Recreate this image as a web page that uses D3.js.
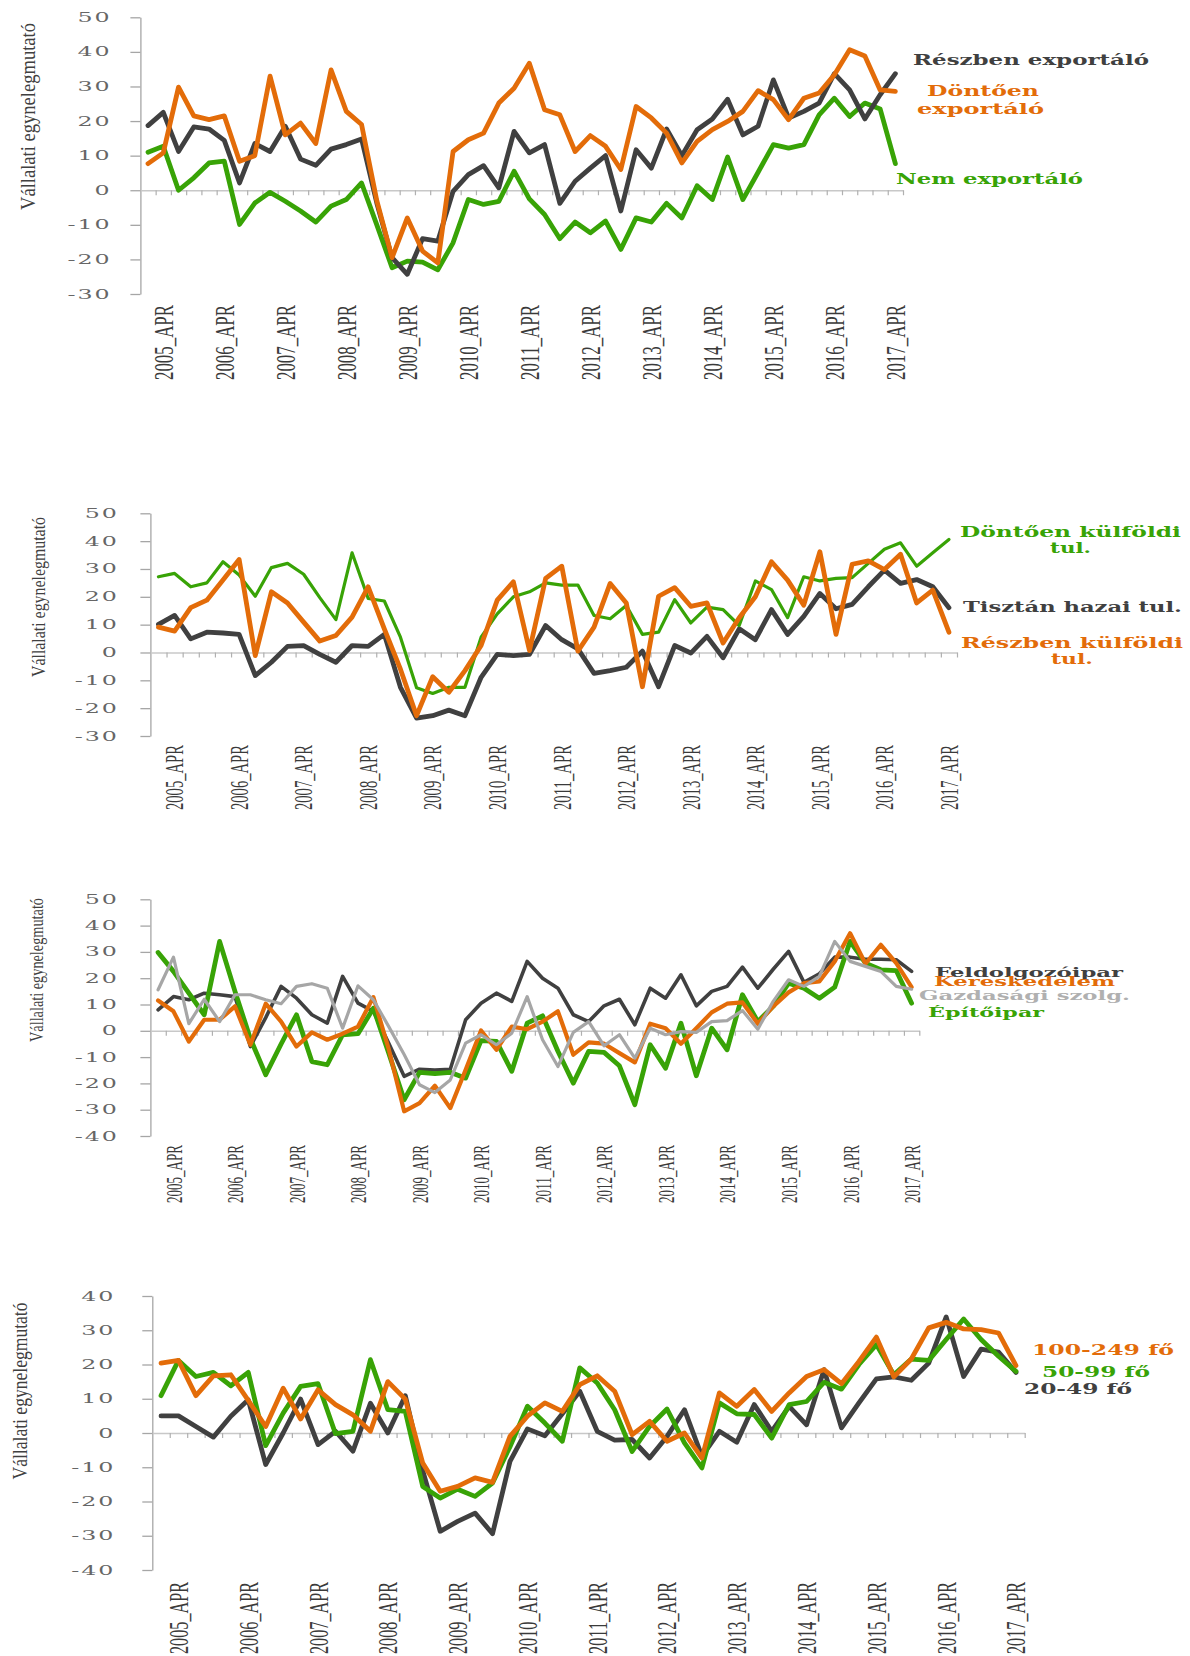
<!DOCTYPE html>
<html>
<head>
<meta charset="utf-8">
<script src="https://cdn.jsdelivr.net/npm/d3@7/dist/d3.min.js"></script>
<style>
  body { margin: 0; background: #fff; }
  svg text { font-family: "DejaVu Serif", serif; }
</style>
</head>
<body>
<svg id="chart" width="1190" height="1656"></svg>
<script>
// Negyedévek: 2005_JAN ... 2017_APR (csak az áprilisi címkék látszanak)
var honapok = ["JAN", "APR", "JUL", "OKT"];
var negyedevek = [];
for (var ev = 2005; ev <= 2017; ev++) {
  honapok.forEach(function(h) { negyedevek.push(ev + "_" + h); });
}
negyedevek = negyedevek.slice(0, 50);

// 1. ábra - export szerint
var p1Ticks = [50, 40, 30, 20, 10, 0, -10, -20, -30];
var p1Reszben = [18.7, 22.5, 11.2, 18.3, 17.7, 14.4, 2.1, 13.5, 11.2, 18.5, 9, 7.2, 11.9, 13.2, 14.8, -3.7, -19.5, -24.3, -14, -14.7, -0.3, 4.5, 7.1, 0.7, 17, 10.8, 13.2, -3.8, 2.6, 6.4, 10, -6, 11.7, 6.4, 17.7, 10, 17.5, 20.6, 26.3, 16, 18.5, 31.9, 20.9, 22.8, 25.2, 33.7, 29, 20.6, 27.6, 33.7];
var p1Dontoen = [7.7, 10.8, 29.8, 21.5, 20.4, 21.5, 8.4, 10, 33, 16, 19.4, 13.5, 34.8, 22.8, 19, -3, -19.5, -8, -17.6, -21, 11.2, 14.6, 16.5, 25.2, 29.5, 36.7, 23.3, 21.8, 11.2, 15.8, 12.7, 6, 24.2, 20.9, 16.5, 7.9, 14.1, 17.5, 19.9, 22.8, 28.8, 26.2, 20.4, 26.6, 28.1, 33.4, 40.6, 38.8, 29, 28.6];
var p1Nem = [11, 12.7, 0, 3.6, 7.9, 8.4, -9.9, -3.7, -0.6, -3.2, -6, -9.2, -4.6, -2.7, 2.1, -10, -22.4, -20.5, -20.8, -23, -15.2, -2.7, -4.1, -3.2, 5.5, -2.5, -7, -14, -9.2, -12.3, -8.9, -17.1, -8, -9.2, -3.8, -8, 1.3, -2.7, 9.6, -2.7, 5.2, 13.2, 12.2, 13.2, 21.8, 26.6, 21.3, 25.2, 23.5, 7.7];

// 2. ábra - tulajdonos szerint
var p2Ticks = [50, 40, 30, 20, 10, 0, -10, -20, -30];
var p2Dontoen = [27.2, 28.4, 23.6, 25, 32.6, 27.8, 20.2, 30.5, 32, 28.1, 19.7, 11.8, 35.8, 19.4, 18.5, 5.5, -12.7, -14.7, -12.5, -12.5, 5.5, 13.9, 20, 21.8, 25, 24.2, 24.2, 13.3, 12.1, 16.9, 6.5, 7.3, 19, 10.6, 16.3, 15.4, 9.7, 25.7, 22.6, 12.5, 27.2, 25.7, 26.6, 26.9, 32, 37.1, 39.4, 31, 35.8, 40.6];
var p2Reszben = [9.1, 7.7, 16.1, 18.8, 26, 33.4, -1.1, 21.8, 17.8, 10.9, 4.1, 6.1, 12.7, 23.6, 8.5, -6, -22.7, -8.7, -14.3, -6.5, 2.5, 18.8, 25.4, 0.7, 26.6, 31, 0.5, 9.1, 24.8, 17.8, -12.3, 20.2, 23.3, 16.6, 17.8, 3.4, 12.5, 20, 32.6, 26, 17, 36.2, 6.5, 31.7, 32.9, 29.8, 35.3, 17.8, 22.4, 7.3];
var p2Tisztan = [10.1, 13.3, 4.9, 7.3, 7, 6.5, -8.3, -3.5, 2.2, 2.5, -0.7, -3.5, 2.5, 2.2, 6.5, -12.5, -23.6, -22.7, -20.7, -22.7, -8.9, -0.7, -1.1, -0.7, 9.7, 4.6, 1.3, -7.5, -6.5, -5.3, 0.5, -12.3, 2.5, -0.2, 5.8, -1.9, 8.5, 4.6, 15.4, 6.5, 13, 21.2, 15.7, 17.3, 23.6, 29.6, 24.8, 26.2, 23.6, 16.1];

// 3. ábra - ágazat szerint
var p3Ticks = [50, 40, 30, 20, 10, 0, -10, -20, -30, -40];
var p3Feldolg = [8, 13, 11.8, 14.3, 13.7, 13, -6, 5, 16.9, 12.4, 6.1, 2.9, 20.7, 10.5, 7.4, -4.7, -17.3, -14.6, -14.9, -14.6, 4.2, 10.5, 14.3, 11.2, 26.4, 20, 16.2, 6.1, 3.5, 9.5, 12, 2.3, 16.2, 12.4, 21.3, 9.5, 15, 16.9, 24.2, 16.2, 23.4, 30.2, 18.4, 21.7, 28, 28, 27.2, 27.2, 27, 22.6];
var p3Keresk = [11.5, 7.4, -4.1, 4.2, 4.2, 9.3, -5.3, 10.3, 3.5, -6, -0.6, -3.4, -1.1, 1.6, 12.8, -7, -30.6, -27.5, -20.9, -29.4, -14.8, 0.1, -7.2, 1.6, 0.6, 3.5, 7.4, -9.1, -4.4, -4.9, -8.5, -12, 2.7, 1, -4.9, 1, 7, 10.3, 10.8, 2.7, 9.3, 14.6, 18.1, 18.8, 26.4, 37.1, 25.5, 32.7, 25.7, 16.6];
var p3Gazd = [15.6, 28, 2.7, 12, 3.5, 13.7, 13.7, 11.8, 10.3, 16.9, 17.9, 16.2, 1, 17.1, 11.8, 1.6, -9, -20.5, -23.5, -18.7, -4.7, -1.5, -5.3, -0.9, 13, -3.4, -13.6, -0.6, 3.5, -5.7, -1.5, -10.4, 1, -1.5, -0.3, -0.6, 3.5, 3.9, 7.7, 0.6, 11.2, 19.4, 16.9, 20.7, 34, 26.4, 24.5, 22.6, 16.9, 15.8];
var p3Epito = [29.8, 22.6, 14.3, 6.1, 34, 15, -3, -16.7, -5, 6.1, -11.7, -12.9, -1.5, -1.1, 8.6, -8.5, -26.2, -15.8, -16.3, -15.8, -18, -3.7, -4, -15.4, 2.9, 5.7, -7.8, -19.9, -7.8, -8.2, -13.3, -28.1, -5.3, -14.2, 2.9, -17.1, 1, -7.2, 13.7, 3.5, 9.3, 18.1, 16.2, 12.4, 16.6, 34, 25.7, 23.2, 22.9, 10.5];

// 4. ábra - létszám szerint
var p4Ticks = [40, 30, 20, 10, 0, -10, -20, -30, -40];
var p4Kicsi = [5, 5, 1.9, -1.2, 4.9, 9.7, -9.2, 0, 9.9, -3.4, 0.5, -5.3, 8.7, 0, 10.9, -11, -28.7, -25.8, -23.4, -29.4, -8.3, 1.2, -0.8, 5.6, 12.2, 0.5, -2.1, -1.9, -7.3, -1, 6.8, -6.8, 0.5, -2.7, 8.3, 0.5, 7.8, 2.4, 18.5, 1.5, 8.8, 15.8, 16.4, 15.4, 20.4, 33.9, 16.5, 24.5, 23.6, 17.7];
var p4Kozep = [10.9, 21.2, 16.5, 17.7, 13.8, 17.7, -3.7, 5.8, 13.6, 14.4, -0.2, 0.5, 21.4, 6.8, 6.3, -15.6, -19, -16.4, -18.5, -14.6, -4, 7.8, 2.9, -2.4, 19, 14.6, 6.8, -5.4, 1.9, 7, -2.9, -10.2, 8.8, 5.6, 5.4, -1.5, 8.3, 9.2, 14.8, 12.8, 20, 25.8, 17, 21.6, 21.2, 27.3, 33.3, 27.3, 22.4, 18];
var p4Nagy = [20.4, 21.2, 10.9, 16.7, 17, 9.5, 1.9, 13.1, 4.1, 12.6, 8.3, 5.3, 0.5, 15, 9.9, -8.8, -17, -15.6, -13.1, -14.4, -1, 4.9, 8.8, 6.3, 14.1, 16.7, 12.2, -0.5, 3.4, -2.4, 0, -7.3, 11.7, 7.8, 12.7, 6.3, 11.7, 16.5, 18.5, 14.4, 20.9, 28, 16.4, 21.6, 30.7, 32.3, 30.4, 30.2, 29.2, 19.7];

var SZURKE = "#404040", NARANCS = "#e36c09", ZOLD = "#38a306", VILAGOS = "#a6a6a6";
var cim = "Vállalati egynelegmutató";

var svg = d3.select("#chart");

function drawPanel(cfg) {
  var g = svg.append("g");

  var x = d3.scaleBand().domain(negyedevek).range([cfg.left, cfg.right]);
  var xb = d3.scaleLinear().domain([0, negyedevek.length]).range([cfg.left, cfg.right]);
  var y = d3.scaleLinear()
    .domain([cfg.ticks[cfg.ticks.length - 1], cfg.ticks[0]])
    .range([cfg.bottom, cfg.top]);

  // függőleges tengely
  var ya = g.append("g")
    .attr("transform", "translate(" + cfg.left + ",0)")
    .call(d3.axisLeft(y).tickValues(cfg.ticks).tickSize(10).tickSizeOuter(0).tickFormat(d3.format("d")));
  ya.select(".domain").attr("stroke", "#a6a6a6").attr("stroke-width", 1.3);
  ya.selectAll(".tick line").attr("stroke", "#a6a6a6").attr("stroke-width", 1.3);
  ya.selectAll(".tick text")
    .attr("x", -(cfg.gap - 2) / 1.9)
    .attr("transform", "scale(1.9,1)")
    .attr("fill", "#666")
    .style("font-family", "DejaVu Serif")
    .style("font-size", "12.5px")
    .style("letter-spacing", "1px")
    .text(function(d) { return d < 0 ? "-" + Math.abs(d) : d; });

  // nulla vonal, negyedéves osztásokkal
  var xa = g.append("g")
    .attr("transform", "translate(0," + y(0) + ")")
    .call(d3.axisBottom(xb).tickValues(d3.range(1, negyedevek.length + 1)).tickSize(5).tickSizeOuter(0).tickFormat(""));
  xa.select(".domain").attr("stroke", "#c8c8c8").attr("stroke-width", 1.5);
  xa.selectAll(".tick line").attr("stroke", "#b0b0b0").attr("stroke-width", 1.2);

  // évenkénti címkék
  g.selectAll(".xlab")
    .data(negyedevek.filter(function(d) { return d.slice(-3) == "APR"; }))
    .enter()
    .append("text")
      .attr("transform", function(d) {
        return "translate(" + (x(d) + x.bandwidth() / 2) + "," + cfg.labTop + ") rotate(-90)";
      })
      .attr("text-anchor", "end")
      .attr("dy", "0.35em")
      .attr("textLength", cfg.labLen)
      .attr("lengthAdjust", "spacingAndGlyphs")
      .attr("fill", "#3a3a3a")
      .style("font-family", "Liberation Serif")
      .style("font-size", cfg.labSize + "px")
      .text(function(d) { return d; });

  // tengelycím
  g.append("text")
    .attr("transform", "translate(" + cfg.titleX + "," + cfg.titleY + ") rotate(-90)")
    .attr("text-anchor", "middle")
    .attr("textLength", cfg.titleLen)
    .attr("lengthAdjust", "spacingAndGlyphs")
    .attr("fill", "#404040")
    .style("font-family", "Liberation Serif")
    .style("font-size", cfg.titleSize + "px")
    .text(cim);

  // vonalak
  var line = d3.line()
    .x(function(d, i) { return x(negyedevek[i]) + x.bandwidth() / 2; })
    .y(function(d) { return y(d); });

  cfg.series.forEach(function(s) {
    g.append("path")
      .datum(s.values)
      .attr("fill", "none")
      .attr("stroke", s.color)
      .attr("stroke-width", s.width)
      .attr("stroke-linejoin", "round")
      .attr("stroke-linecap", "round")
      .attr("d", line);
  });

  // feliratok
  cfg.legend.forEach(function(l) {
    g.append("text")
      .attr("x", l.x)
      .attr("y", l.y)
      .attr("textLength", l.len)
      .attr("lengthAdjust", "spacingAndGlyphs")
      .attr("fill", l.color)
      .style("font-family", "DejaVu Serif")
      .style("font-weight", "bold")
      .style("font-size", l.size + "px")
      .text(l.text);
  });
}

drawPanel({
  left: 140.4, right: 903, top: 17.3, bottom: 294, ticks: p1Ticks, gap: 31,
  labTop: 305, labLen: 75, labSize: 27,
  titleX: 35, titleY: 116.5, titleLen: 187, titleSize: 20,
  series: [
    {values: p1Nem, color: ZOLD, width: 4.8},
    {values: p1Reszben, color: SZURKE, width: 4.8},
    {values: p1Dontoen, color: NARANCS, width: 4.8}
  ],
  legend: [
    {text: "Részben exportáló", color: SZURKE, x: 913, y: 65, len: 236, size: 15},
    {text: "Döntően", color: NARANCS, x: 927, y: 96, len: 112, size: 15},
    {text: "exportáló", color: NARANCS, x: 917, y: 114, len: 127, size: 15},
    {text: "Nem exportáló", color: ZOLD, x: 896, y: 184, len: 187, size: 15}
  ]
});

drawPanel({
  left: 150.4, right: 957, top: 513.3, bottom: 736, ticks: p2Ticks, gap: 33.7,
  labTop: 745, labLen: 65, labSize: 25,
  titleX: 45, titleY: 597, titleLen: 160, titleSize: 19,
  series: [
    {values: p2Tisztan, color: SZURKE, width: 4.8},
    {values: p2Dontoen, color: ZOLD, width: 3.2},
    {values: p2Reszben, color: NARANCS, width: 4.8}
  ],
  legend: [
    {text: "Döntően külföldi", color: ZOLD, x: 960, y: 537, len: 221, size: 14},
    {text: "tul.", color: ZOLD, x: 1050, y: 553, len: 41, size: 14},
    {text: "Tisztán hazai tul.", color: SZURKE, x: 963, y: 612, len: 219, size: 14},
    {text: "Részben külföldi", color: NARANCS, x: 961, y: 648, len: 222, size: 14},
    {text: "tul.", color: NARANCS, x: 1051, y: 664, len: 42, size: 14}
  ]
});

drawPanel({
  left: 150.4, right: 919.3, top: 899.3, bottom: 1136, ticks: p3Ticks, gap: 33.7,
  labTop: 1145, labLen: 58, labSize: 24,
  titleX: 43, titleY: 970, titleLen: 144, titleSize: 18,
  series: [
    {values: p3Feldolg, color: SZURKE, width: 3.6},
    {values: p3Epito, color: ZOLD, width: 4.8},
    {values: p3Keresk, color: NARANCS, width: 4.2},
    {values: p3Gazd, color: VILAGOS, width: 3.2}
  ],
  legend: [
    {text: "Feldolgozóipar", color: SZURKE, x: 935, y: 977, len: 188, size: 12},
    {text: "Kereskedelem", color: NARANCS, x: 934, y: 986, len: 181, size: 12},
    {text: "Gazdasági szolg.", color: "#b0b0b0", x: 919, y: 1000, len: 211, size: 12},
    {text: "Építőipar", color: ZOLD, x: 928, y: 1017, len: 116, size: 12}
  ]
});

drawPanel({
  left: 152.3, right: 1024.7, top: 1296, bottom: 1570, ticks: p4Ticks, gap: 39,
  labTop: 1582, labLen: 72, labSize: 27,
  titleX: 27, titleY: 1391, titleLen: 177, titleSize: 20,
  series: [
    {values: p4Kicsi, color: SZURKE, width: 4.8},
    {values: p4Kozep, color: ZOLD, width: 4.8},
    {values: p4Nagy, color: NARANCS, width: 4.8}
  ],
  legend: [
    {text: "100-249 fő", color: NARANCS, x: 1032, y: 1355, len: 142, size: 14},
    {text: "50-99 fő", color: ZOLD, x: 1042, y: 1377, len: 108, size: 14},
    {text: "20-49 fő", color: SZURKE, x: 1024, y: 1394, len: 108, size: 14}
  ]
});
</script>
</body>
</html>
